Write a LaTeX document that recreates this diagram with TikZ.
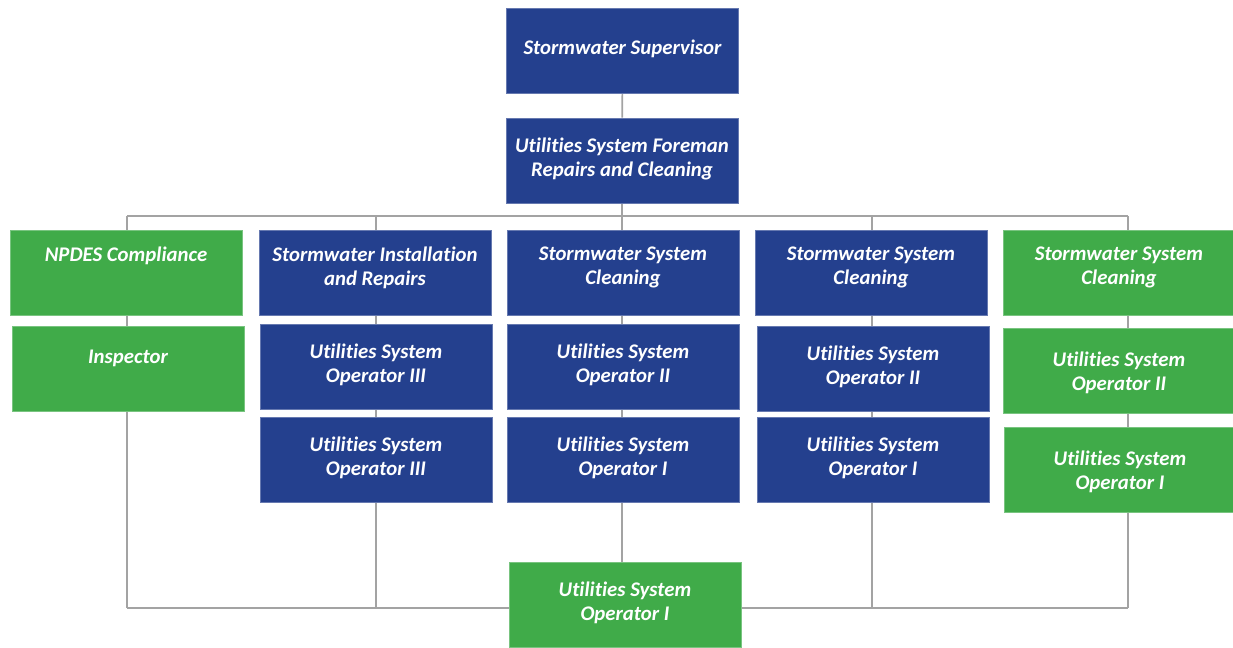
\documentclass[tikz,border=0pt]{standalone}
\usepackage{fontspec}
\setmainfont[Ligatures=NoCommon]{Carlito}
\usetikzlibrary{backgrounds}
\definecolor{navy}{HTML}{24408E}
\definecolor{leaf}{HTML}{40AB49}
\definecolor{wire}{HTML}{A3A3A3}
\tikzset{
  x=0.5pt, y=-0.5pt,
  plainbox/.style={rectangle, minimum width=116pt, minimum height=42.5pt, inner sep=0pt,
    text=white, align=center, font=\bfseries\itshape\fontsize{10.4}{12}\selectfont},
  box/.style={plainbox, text depth=3.5pt},
  bluebox/.style={box, fill=navy, draw=navy!70!white, line width=0.4pt},
  greenbox/.style={box, fill=leaf, draw=leaf!70!white, line width=0.4pt},
  greenplain/.style={plainbox, fill=leaf, draw=leaf!70!white, line width=0.4pt},
  greenlow/.style={greenplain, text depth=-11pt},
  raised/.style={text depth=6.5pt},
  wireline/.style={draw=wire, line width=0.8pt}
}
\begin{document}
\begin{tikzpicture}
\useasboundingbox (0,0) rectangle (1233,648);
% top
\node[bluebox] (sup) at (622.5,50.5) {Stormwater Supervisor};
\node[bluebox] (fore) at (622,160.5) {Utilities System Foreman\\Repairs and Cleaning};
% row 1
\node[greenbox, raised] (npdes) at (126,272.5) {NPDES Compliance\\\strut};
\node[bluebox, raised] (sia) at (375,272.5) {Stormwater Installation\\and Repairs};
\node[bluebox, raised] (sscA) at (623,272.5) {Stormwater System\\Cleaning};
\node[bluebox, raised] (sscB) at (871,272.5) {Stormwater System\\Cleaning};
\node[greenbox, raised] (sscC) at (1119,272.5) {Stormwater System\\Cleaning};
% row 2
\node[greenplain, text depth=-0.5pt] (insp) at (128,368.5) {Inspector\\\strut};
\node[bluebox] (opIIIa) at (376,367) {Utilities System\\Operator III};
\node[bluebox] (opIIa) at (623,367) {Utilities System\\Operator II};
\node[bluebox] (opIIb) at (873,368.5) {Utilities System\\Operator II};
\node[greenlow] (opIIc) at (1119,371) {Utilities System\\Operator II};
% row 3
\node[bluebox] (opIIIb) at (376,460) {Utilities System\\Operator III};
\node[bluebox] (opIa) at (623,460) {Utilities System\\Operator I};
\node[bluebox] (opIb) at (873,460) {Utilities System\\Operator I};
\node[greenlow] (opIc) at (1120,470) {Utilities System\\Operator I};
% bottom
\node[greenbox] (opId) at (625,605) {Utilities System\\Operator I};
% wiring coordinates
\coordinate (busL) at (127,216);
\coordinate (busR) at (1128,216);
\coordinate (botL) at (127,608);
\coordinate (botR) at (1128,608);
\coordinate (c2t) at (376,216);
\coordinate (c2b) at (376,608);
\coordinate (c3t) at (622,216);
\coordinate (c4t) at (872,216);
\coordinate (c4b) at (872,608);
\begin{pgfonlayer}{background}
\fill[white] (0,0) rectangle (1233,648);
\draw[wireline] (sup) -- (fore);
\draw[wireline] (fore) -- (fore |- busL);
\draw[wireline] (busL) -- (busR);
\draw[wireline] (busL) -- (botL);
\draw[wireline] (busR) -- (botR);
\draw[wireline] (botL) -- (botR);
\draw[wireline] (c2t) -- (c2b);
\draw[wireline] (c3t) -- (c3t |- opId.north);
\draw[wireline] (c4t) -- (c4b);
\end{pgfonlayer}
\end{tikzpicture}
\end{document}
